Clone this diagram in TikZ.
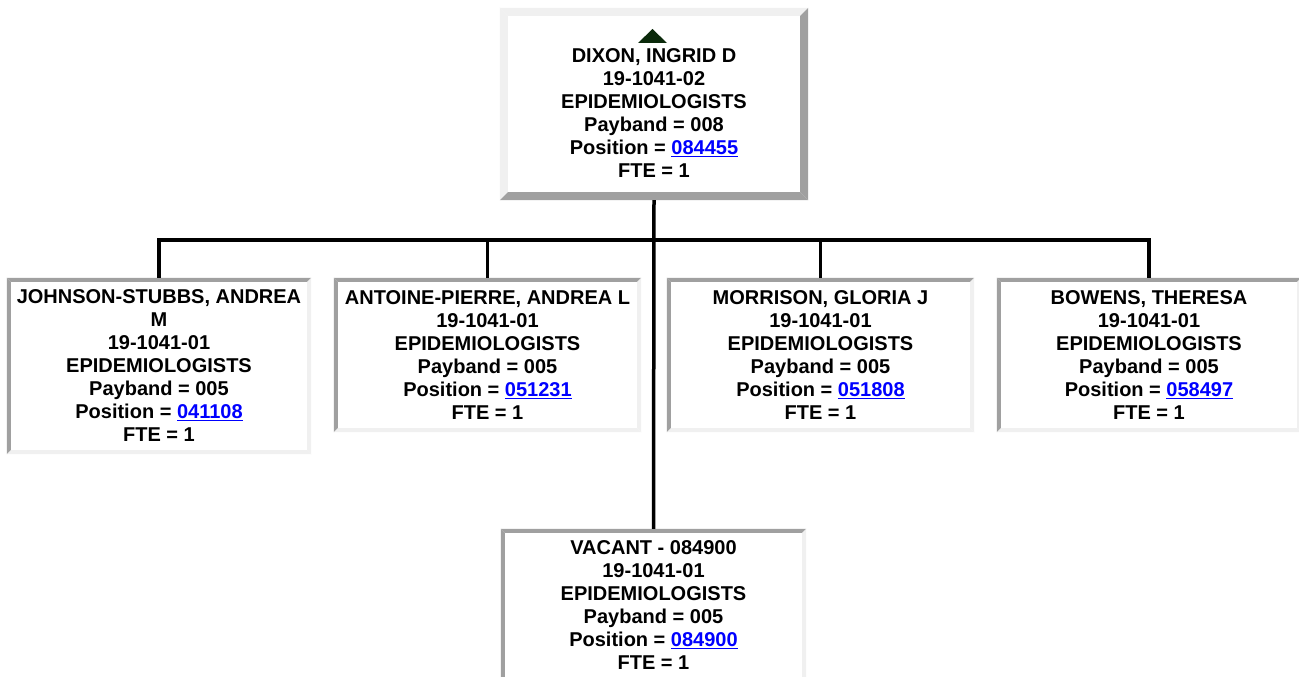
\documentclass[tikz,border=0pt]{standalone}
\usepackage{fontspec}
\setmainfont{Liberation Sans}
\usetikzlibrary{calc}
\definecolor{bdark}{HTML}{A0A0A0}
\definecolor{blight}{HTML}{F0F0F0}
\definecolor{linkblue}{HTML}{0000FF}
\definecolor{arrowgreen}{HTML}{0B2A0B}
\newcommand\lnk[1]{\textcolor{linkblue}{\underline{#1}}}
\newcommand\bevelbox[4]{%
  \fill[#3] (#1.north west) -- (#1.north east) -- ($(#1.north east)+(-#2,#2)$) -- ($(#1.north west)+(#2,#2)$) -- cycle;
  \fill[#3] (#1.north west) -- ($(#1.north west)+(#2,#2)$) -- ($(#1.south west)+(#2,-#2)$) -- (#1.south west) -- cycle;
  \fill[#4] (#1.south west) -- (#1.south east) -- ($(#1.south east)+(-#2,-#2)$) -- ($(#1.south west)+(#2,-#2)$) -- cycle;
  \fill[#4] (#1.north east) -- ($(#1.north east)+(-#2,#2)$) -- ($(#1.south east)+(-#2,-#2)$) -- (#1.south east) -- cycle;
}
\tikzset{
  box/.style={rectangle, inner sep=0pt, fill=white, align=center,
    font=\bfseries\fontsize{20}{23}\selectfont},
  txt/.style={inner sep=0pt, align=center, font=\bfseries\fontsize{20}{23}\selectfont},
  conn/.style={line width=3.5pt, black}
}
\begin{document}
\begin{tikzpicture}[x=1pt,y=-1pt]
\useasboundingbox (0,0) rectangle (1299,677);
\fill[white] (0,0) rectangle (1299,677);
\coordinate (bus) at (654,240);
% boxes
\node[box, minimum width=308pt, minimum height=192pt] (top) at (654,104) {};
\node[box, minimum width=304pt, minimum height=176pt] (jo) at (159,366)
  {JOHNSON-STUBBS, ANDREA\\M\\19-1041-01\\EPIDEMIOLOGISTS\\Payband = 005\\Position = \lnk{041108}\\FTE = 1};
\node[box, minimum width=307pt, minimum height=154pt] (an) at (487.5,355)
  {ANTOINE-PIERRE, ANDREA L\\19-1041-01\\EPIDEMIOLOGISTS\\Payband = 005\\Position = \lnk{051231}\\FTE = 1};
\node[box, minimum width=307pt, minimum height=154pt] (mo) at (820.5,355)
  {MORRISON, GLORIA J\\19-1041-01\\EPIDEMIOLOGISTS\\Payband = 005\\Position = \lnk{051808}\\FTE = 1};
\node[box, minimum width=304pt, minimum height=154pt] (bo) at (1149,355)
  {BOWENS, THERESA\\19-1041-01\\EPIDEMIOLOGISTS\\Payband = 005\\Position = \lnk{058497}\\FTE = 1};
\node[box, minimum width=305pt, minimum height=152pt] (va) at (653.5,605)
  {VACANT - 084900\\19-1041-01\\EPIDEMIOLOGISTS\\Payband = 005\\Position = \lnk{084900}\\FTE = 1};
% borders
\bevelbox{top}{8}{blight}{bdark}
\bevelbox{jo}{4}{bdark}{blight}
\bevelbox{an}{4}{bdark}{blight}
\bevelbox{mo}{4}{bdark}{blight}
\bevelbox{bo}{4}{bdark}{blight}
\bevelbox{va}{4}{bdark}{blight}
% top text and arrow
\node[txt] (toptxt) at (654,113.5)
  {DIXON, INGRID D\\19-1041-02\\EPIDEMIOLOGISTS\\Payband = 008\\Position = \lnk{084455}\\FTE = 1};
\fill[arrowgreen] (638,43) -- (652.5,29) -- (667,43) -- cycle;
% lines
\draw[conn] (top.south) -- (va.north);
\draw[conn] (jo.north) -- (jo.north |- bus) -- (bo.north |- bus) -- (bo.north);
\draw[conn] (an.north) -- (an.north |- bus);
\draw[conn] (mo.north) -- (mo.north |- bus);
\end{tikzpicture}
\end{document}
